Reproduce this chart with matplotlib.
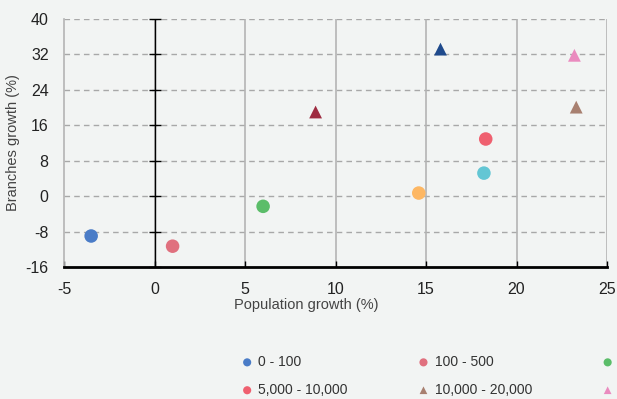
import matplotlib
matplotlib.use("Agg")
import matplotlib.pyplot as plt

plt.rcParams['font.family'] = ['Liberation Sans', 'DejaVu Sans']
plt.rcParams['axes.unicode_minus'] = False

# size bands (population) and their growth figures
bands = ['0 - 100', '100 - 500', '500 - 1,000', '1,000 - 2,000', '2,000 - 5,000',
         '5,000 - 10,000', '10,000 - 20,000', '20,000 - 50,000', '50,000 - 100,000', '100,000+']
pop_growth = [-3.5, 1.0, 6.0, 14.6, 18.2, 18.3, 23.3, 23.2, 8.9, 15.8]
branch_growth = [-9.0, -11.3, -2.3, 0.7, 5.2, 12.9, 20.1, 31.8, 19.0, 33.2]
markers = ['o', 'o', 'o', 'o', 'o', 'o', '^', '^', '^', '^']
colors = ['#4a7cc7', '#e0707e', '#5bbd69', '#fdb763', '#63c6d4',
          '#ef606f', '#a88070', '#ea8bbf', '#9e2b40', '#1f4a8c']

x_ticks = [-5, 0, 5, 10, 15, 20, 25]
y_ticks = [-16, -8, 0, 8, 16, 24, 32, 40]

bg = '#f2f4f3'
fig = plt.figure(figsize=(6.17, 3.99), dpi=100, facecolor=bg)
ax = fig.add_axes([64/617, 1-267/399, 543/617, 248/399], facecolor=bg)

ax.set_xlim(-5, 25)
ax.set_ylim(-16, 40)
ax.set_xticks(x_ticks)
ax.set_yticks(y_ticks)

# grid: dashed horizontals, solid verticals
for y in y_ticks[1:]:
    ax.axhline(y, color='#a8a8a8', lw=1, ls=(0, (4, 3)), zorder=1)
for x in x_ticks[1:]:
    ax.axvline(x, color='#b4b4b4', lw=1.2, zorder=1)

# zero line acting as y axis, with crossing ticks
ax.axvline(0, color='black', lw=1, zorder=2)
ax.plot([0]*len(y_ticks), y_ticks, ls='none', marker='_', ms=8, mew=1,
        color='black', zorder=2, clip_on=False)

for sp in ['top', 'right']:
    ax.spines[sp].set_visible(False)
ax.spines['left'].set_color('#b4b4b4')
ax.spines['left'].set_linewidth(1.2)
ax.spines['bottom'].set_color('black')
ax.spines['bottom'].set_linewidth(2)

ax.tick_params(axis='y', length=0, pad=11, labelsize=11.5, labelcolor='#222222')
ax.tick_params(axis='x', direction='in', length=4, width=1, color='black',
               pad=11, labelsize=11.5, labelcolor='#222222')

handles = []
for px, py, m, c, lab in zip(pop_growth, branch_growth, markers, colors, bands):
    h = ax.scatter(px, py, marker=m, s=95 if m == 'o' else 85, color=c,
                   edgecolors='none', zorder=3, label=lab, clip_on=False)
    handles.append(h)

ax.set_xlabel('Population growth (%)', fontsize=10.5, color='#444444')
ax.xaxis.set_label_coords((306-64)/543, -0.125)
ax.xaxis.label.set_va('top')
ax.set_ylabel('Branches growth (%)', fontsize=10.5, color='#444444', labelpad=4)

# legend filled row by row (matplotlib fills columns first)
ncol = 5
order = [r * ncol + c for c in range(ncol) for r in range(2)]
leg = fig.legend([handles[i] for i in order], [bands[i] for i in order],
                 loc='upper left', bbox_to_anchor=(243/617, 1-355/399), ncol=ncol,
                 frameon=False, fontsize=10, markerscale=0.6, handlelength=0.6,
                 handletextpad=0.5, columnspacing=5.15, labelspacing=1.0,
                 borderaxespad=0, borderpad=0)
for t in leg.get_texts():
    t.set_color('#333333')

fig.savefig('out.png', dpi=100, facecolor=bg)
